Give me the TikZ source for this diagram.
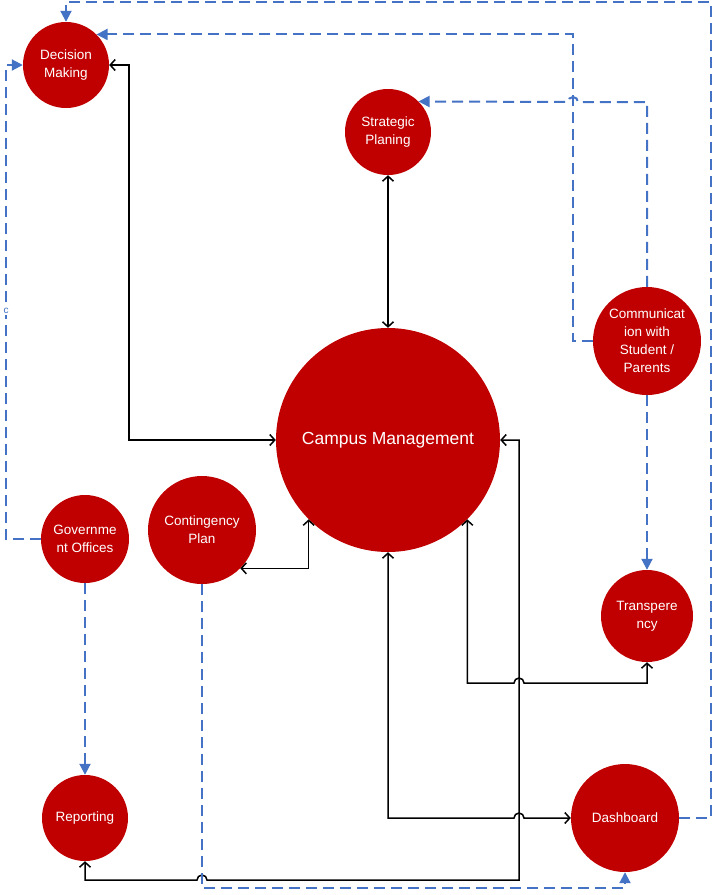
\documentclass[tikz,border=0pt]{standalone}
\usepackage{fontspec}
\setmainfont{Liberation Sans}
\usetikzlibrary{arrows.meta}
\definecolor{cred}{HTML}{C00000}
\definecolor{cblue}{HTML}{4472C4}
\begin{document}
\begin{tikzpicture}[x=1pt,y=-1pt,
  bub/.style={circle,fill=cred,draw=none,inner sep=0pt,align=center,text=white,font=\fontsize{13.5}{18}\selectfont},
  sol/.style={draw=black,line width=1.5pt,{Straight Barb[length=5pt,width=11pt]}-{Straight Barb[length=5pt,width=11pt]}},
  dsh/.style={draw=cblue,line width=2pt,dash pattern=on 11pt off 6pt,-{Triangle[length=11pt,width=11pt]}},
  lbl/.style={font=\fontsize{10}{10}\selectfont,text=cblue,fill=white,inner sep=1.5pt}
  ]
\useasboundingbox (0,0) rectangle (714,895);
\node[bub,minimum size=86pt] (dm) at (66,65) {Decision\\Making};
\node[bub,minimum size=86pt] (sp) at (388,132) {Strategic\\Planing};
\node[bub,minimum size=224pt,font=\fontsize{17.5}{20}\selectfont] (cm) at (388,440) {Campus Management};
\node[bub,minimum size=108pt] (co) at (647,341) {Communicat\\ion with\\Student /\\Parents};
\node[bub,minimum size=88pt] (go) at (85,539) {Governme\\nt Offices};
\node[bub,minimum size=108pt] (cp) at (202,530) {Contingency\\Plan};
\node[bub,minimum size=92pt] (tr) at (647,616) {Transpere\\ncy};
\node[bub,minimum size=86pt] (re) at (85,818) {Reporting};
\node[bub,minimum size=108pt] (da) at (625,818) {Dashboard};
% solid connectors
\draw[sol] (dm.east) -- ++(20,0) |- (cm.west);
\draw[sol] (sp.south) -- (cm.north);
\draw[sol] (cp.-45) -| (cm.-135);
\draw[sol] (cm.-45) |- (514,683) arc[start angle=180,end angle=0,radius=5pt] -| (tr.south);
\draw[sol] (cm.east) -- ++(19,0) |- (207,880) arc[start angle=0,end angle=180,radius=5pt] -| (re.south);
\draw[sol] (cm.south) |- (514,818) arc[start angle=180,end angle=0,radius=5pt] -- (da.west);
% dashed connectors
\draw[dsh] (da.east) -- ++(32,0) |- (66,2) -- (dm.north);
\draw[dsh] (co.west) -- ++(-20,0) |- (dm.45);
\draw[dsh] (co.north) |- (578,102) arc[start angle=0,end angle=180,radius=5pt] -- (sp.45);
\draw[dsh] (co.south) -- (tr.north);
\draw[dsh] (go.west) -- ++(-35,0) |- (dm.west);
\node[lbl] (c) at (6,311) {c};
\draw[dsh] (go.south) -- (re.north);
\draw[dsh] (cp.south) -- ++(0,304) -| (da.south);
\end{tikzpicture}
\end{document}
